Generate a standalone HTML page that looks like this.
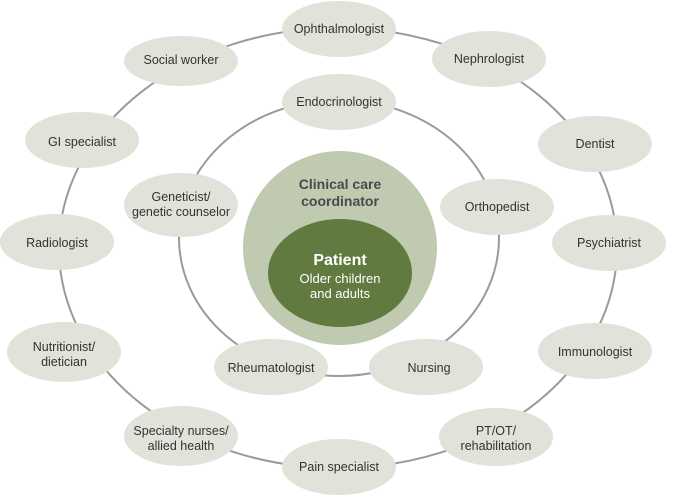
<!DOCTYPE html>
<html><head><meta charset="utf-8"><style>
html,body{margin:0;padding:0;background:#fff;}
svg{display:block;}
text{font-family:"Liberation Sans",sans-serif;font-size:12.5px;fill:#333;text-anchor:middle;}
</style></head><body>
<svg width="675" height="496" viewBox="0 0 675 496">
<ellipse cx="338" cy="248" rx="279" ry="220" fill="none" stroke="#9a9a9a" stroke-width="2"/>
<ellipse cx="339" cy="238" rx="160" ry="138" fill="none" stroke="#9a9a9a" stroke-width="2"/>
<circle cx="340" cy="248" r="97" fill="#bfcab1"/>
<ellipse cx="340" cy="273" rx="72" ry="54" fill="#607a3f"/>
<text x="340" y="189" style="font-weight:bold;font-size:14px;fill:#4a4a4a">Clinical care</text>
<text x="340" y="206" style="font-weight:bold;font-size:14px;fill:#4a4a4a">coordinator</text>
<text x="340" y="265" style="font-weight:bold;font-size:16px;fill:#fff">Patient</text>
<text x="340" y="283" style="font-size:13px;fill:#fff">Older children</text>
<text x="340" y="298" style="font-size:13px;fill:#fff">and adults</text>
<g fill="#dfe3d9">
<ellipse cx="339" cy="29" rx="57" ry="28"/>
<ellipse cx="489" cy="59" rx="57" ry="28"/>
<ellipse cx="595" cy="144" rx="57" ry="28"/>
<ellipse cx="609" cy="243" rx="57" ry="28"/>
<ellipse cx="595" cy="351" rx="57" ry="28"/>
<ellipse cx="496" cy="437" rx="57" ry="29"/>
<ellipse cx="339" cy="467" rx="57" ry="28"/>
<ellipse cx="181" cy="436" rx="57" ry="30"/>
<ellipse cx="64" cy="352" rx="57" ry="30"/>
<ellipse cx="57" cy="242" rx="57" ry="28"/>
<ellipse cx="82" cy="140" rx="57" ry="28"/>
<ellipse cx="181" cy="61" rx="57" ry="25"/>
<ellipse cx="339" cy="102" rx="57" ry="28"/>
<ellipse cx="497" cy="207" rx="57" ry="28"/>
<ellipse cx="426" cy="367" rx="57" ry="28"/>
<ellipse cx="271" cy="367" rx="57" ry="28"/>
<ellipse cx="181" cy="205" rx="57" ry="32"/>
</g>
<text x="339" y="33">Ophthalmologist</text>
<text x="489" y="63">Nephrologist</text>
<text x="595" y="148">Dentist</text>
<text x="609" y="247">Psychiatrist</text>
<text x="595" y="356">Immunologist</text>
<text x="496" y="435">PT/OT/</text>
<text x="496" y="450">rehabilitation</text>
<text x="339" y="471">Pain specialist</text>
<text x="181" y="435">Specialty nurses/</text>
<text x="181" y="450">allied health</text>
<text x="64" y="351">Nutritionist/</text>
<text x="64" y="366">dietician</text>
<text x="57" y="247">Radiologist</text>
<text x="82" y="146">GI specialist</text>
<text x="181" y="64">Social worker</text>
<text x="339" y="106">Endocrinologist</text>
<text x="497" y="211">Orthopedist</text>
<text x="429" y="372">Nursing</text>
<text x="271" y="372">Rheumatologist</text>
<text x="181" y="201">Geneticist/</text>
<text x="181" y="216">genetic counselor</text>
</svg>
</body></html>
